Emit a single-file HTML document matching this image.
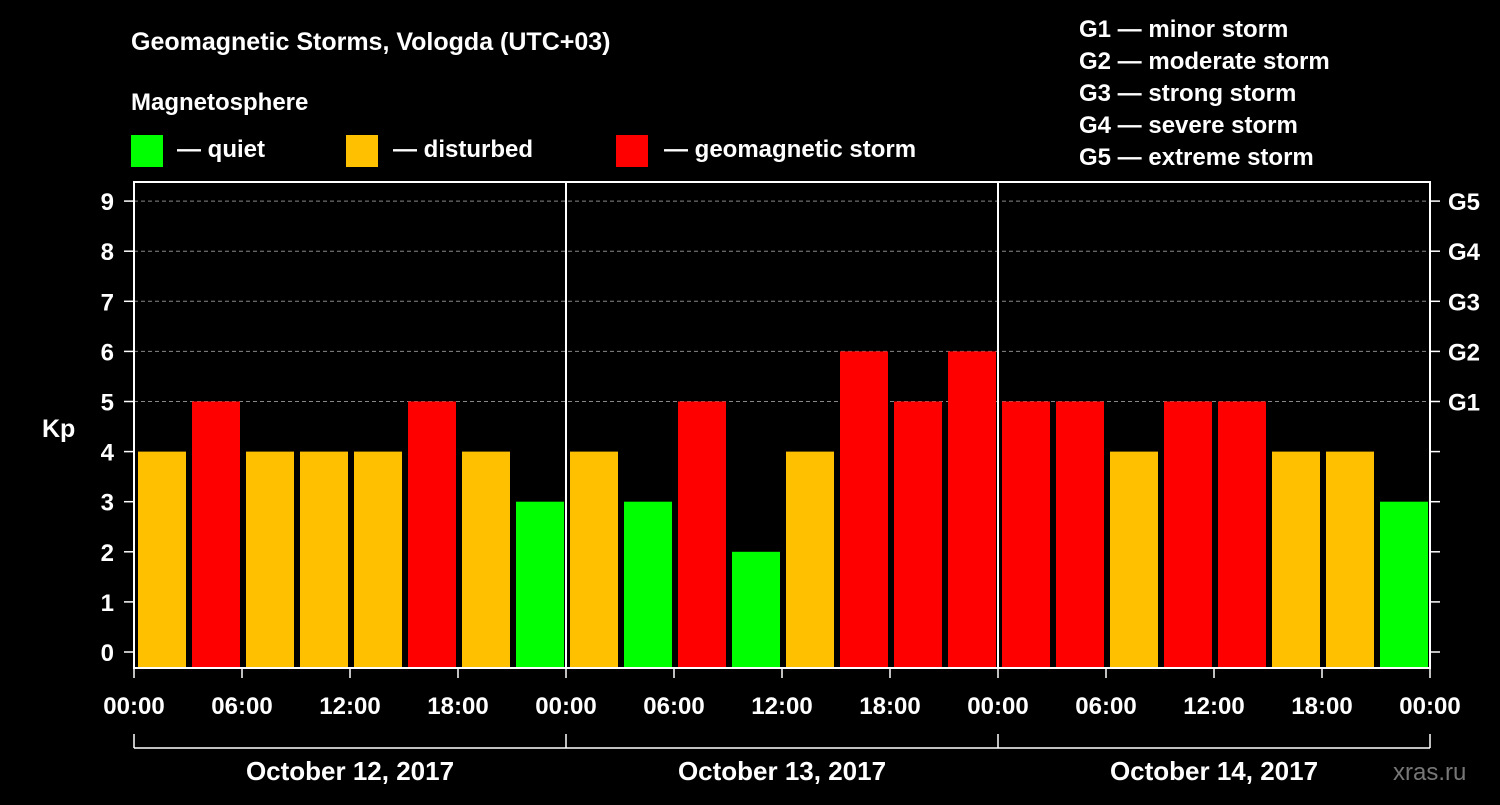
<!DOCTYPE html>
<html><head><meta charset="utf-8"><style>
body{margin:0;background:#000;width:1500px;height:800px;overflow:hidden}
svg text{font-family:"Liberation Sans",Arial,sans-serif;font-weight:bold;fill:#fff}
</style></head><body>
<svg id="c" width="1500" height="800">
<text x="131" y="50" font-size="25">Geomagnetic Storms, Vologda (UTC+03)</text>
<text x="131" y="110" font-size="24">Magnetosphere</text>
<rect x="131" y="135" width="32" height="32" fill="#00ff00"/>
<text x="177" y="157" font-size="24">— quiet</text>
<rect x="346" y="135" width="32" height="32" fill="#ffc000"/>
<text x="393" y="157" font-size="24">— disturbed</text>
<rect x="616" y="135" width="32" height="32" fill="#ff0000"/>
<text x="664" y="157" font-size="24">— geomagnetic storm</text>
<g font-size="24">
<text x="1079" y="37">G1 — minor storm</text>
<text x="1079" y="69">G2 — moderate storm</text>
<text x="1079" y="101">G3 — strong storm</text>
<text x="1079" y="133">G4 — severe storm</text>
<text x="1079" y="165">G5 — extreme storm</text>
</g>
<text x="42" y="437" font-size="25">Kp</text>
<text x="1393" y="780" font-size="24" fill="#777" style="fill:#777;font-weight:normal">xras.ru</text>
<g id="plot"></g>
</svg>
<script>
const values=[4,5,4,4,4,5,4,3, 4,3,5,2,4,6,5,6, 5,5,4,5,5,4,4,3];
const yTicks=[0,1,2,3,4,5,6,7,8,9];
const gLabels=["G1","G2","G3","G4","G5"];
const xLabels=["00:00","06:00","12:00","18:00","00:00","06:00","12:00","18:00","00:00","06:00","12:00","18:00","00:00"];
const dayLabels=["October 12, 2017","October 13, 2017","October 14, 2017"];
const L=134,R=1430,T=182,B=668;
const x=h=>L+(R-L)*h/72;
const y=v=>652-50.1*v;
const ns="http://www.w3.org/2000/svg",g=document.getElementById('plot');
function mk(t,a,txt){const e=document.createElementNS(ns,t);for(const k in a)e.setAttribute(k,a[k]);if(txt!==undefined)e.textContent=txt;g.appendChild(e);return e;}
yTicks.forEach(v=>{
 if(v>=5){const l=mk('line',{x1:L,x2:R,y1:y(v),y2:y(v),stroke:'#888','stroke-dasharray':'4,3'});
 
 }
 mk('line',{x1:L-10,x2:L,y1:y(v),y2:y(v),stroke:'#fff','stroke-width':1.5});
 mk('line',{x1:R,x2:R+10,y1:y(v),y2:y(v),stroke:'#fff','stroke-width':1.5});
 const t=mk('text',{x:L-20,y:y(v)+9,'font-size':24,'text-anchor':'end'},v);
 
 
});
gLabels.forEach((s,i)=>{const t=mk('text',{x:R+18,y:y(5+i)+9,'font-size':24},s);
 
 });
values.forEach((v,i)=>{
 const c=v>=5?'#ff0000':(v>=4?'#ffc000':'#00ff00');
 const b=mk('rect',{x:x(i*3)+4,y:y(v),width:x(3)-x(0)-6,height:B-1-y(v),fill:c});
 
 
});
[24,48].forEach(h=>mk('line',{x1:x(h),x2:x(h),y1:T,y2:B,stroke:'#fff','stroke-width':2}));
const f=mk('rect',{x:L,y:T,width:R-L,height:B-T,fill:'none',stroke:'#fff','stroke-width':2});


xLabels.forEach((s,i)=>{
 mk('line',{x1:x(i*6),x2:x(i*6),y1:B,y2:B+10,stroke:'#fff','stroke-width':1.5});
 const t=mk('text',{x:x(i*6),y:714,'font-size':24,'text-anchor':'middle'},s);
 
 
});
mk('line',{x1:L,x2:R,y1:748,y2:748,stroke:'#fff','stroke-width':1.5});
[0,24,48,72].forEach(h=>mk('line',{x1:x(h),x2:x(h),y1:734,y2:748,stroke:'#fff','stroke-width':1.5}));
dayLabels.forEach((s,i)=>{const t=mk('text',{x:x(i*24+12),y:780,'font-size':26,'text-anchor':'middle'},s);
 
 });
</script>
</body></html>
